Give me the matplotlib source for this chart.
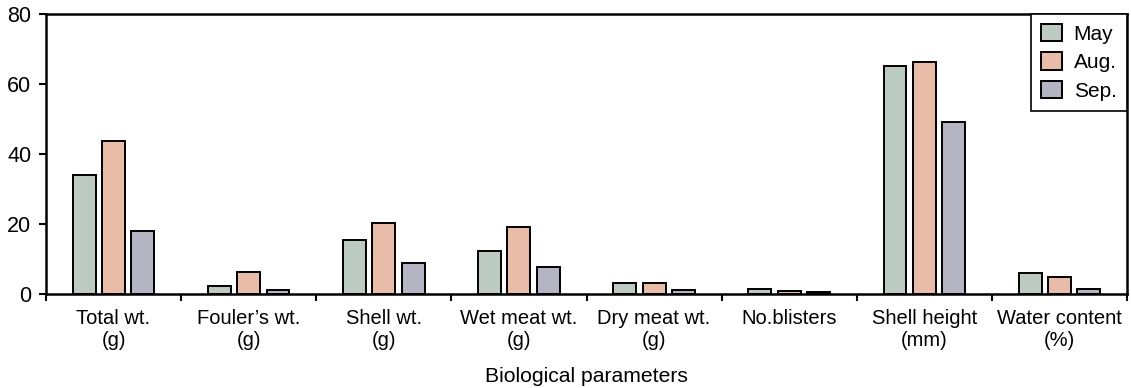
import matplotlib
matplotlib.use("Agg")
import matplotlib.pyplot as plt
import numpy as np

plt.rcParams['font.family'] = ['Liberation Sans', 'DejaVu Sans']

categories = ["Total wt.\n(g)", "Fouler\u2019s wt.\n(g)", "Shell wt.\n(g)", "Wet meat wt.\n(g)",
              "Dry meat wt.\n(g)", "No.blisters", "Shell height\n(mm)", "Water content\n(%)"]
series_names = ["May", "Aug.", "Sep."]
may = [33.9, 2.2, 15.3, 12.3, 3.1, 1.5, 65.1, 5.9]
aug = [43.6, 6.4, 20.2, 19.0, 3.1, 0.9, 66.2, 4.9]
sep = [17.9, 1.1, 8.7, 7.7, 1.1, 0.5, 49.1, 1.4]
yticks = [0, 20, 40, 60, 80]
xlabel = "Biological parameters"

colors = ["#bccbc2", "#e9bca8", "#b5b4c3"]

fig = plt.figure(figsize=(11.31, 3.88), dpi=100)
ax = fig.add_axes([46/1131, 1-294/388, (1127-46)/1131, (294-13.5)/388])

x = np.arange(len(categories))
width = 0.17
offsets = [-0.217, 0.0, 0.217]
for vals, off, col, name in zip([may, aug, sep], offsets, colors, series_names):
    ax.bar(x + off, vals, width=width, color=col, edgecolor="black", linewidth=1.4, label=name, zorder=2)

ax.set_xlim(-0.5, len(categories) - 0.5)
ax.set_ylim(0, 80)
ax.set_yticks(yticks)
ax.set_yticklabels([str(t) for t in yticks], fontsize=15.5)

ax.set_xticks(np.arange(-0.5, len(categories), 1.0))
ax.set_xticklabels([])
ax.set_xticks(x, minor=True)
ax.set_xticklabels(categories, minor=True, fontsize=14.5, linespacing=1.2)
ax.tick_params(axis='x', which='minor', length=0, pad=11)
ax.tick_params(axis='x', which='major', direction='out', length=5, width=1.5)
ax.tick_params(axis='y', direction='out', length=5, width=1.5, pad=5.5)

for s in ax.spines.values():
    s.set_linewidth(1.8)
    s.set_color("black")

ax.set_xlabel(xlabel, fontsize=15.2, labelpad=12)

leg = ax.legend(loc="upper right", bbox_to_anchor=(1.0, 1.0), borderaxespad=0, fontsize=15,
                fancybox=False, framealpha=1, edgecolor="black", handlelength=1.0, handleheight=0.9,
                handletextpad=0.55, labelspacing=0.42, borderpad=0.5)
leg.get_frame().set_linewidth(1.2)

fig.savefig("out.png", dpi=100)
